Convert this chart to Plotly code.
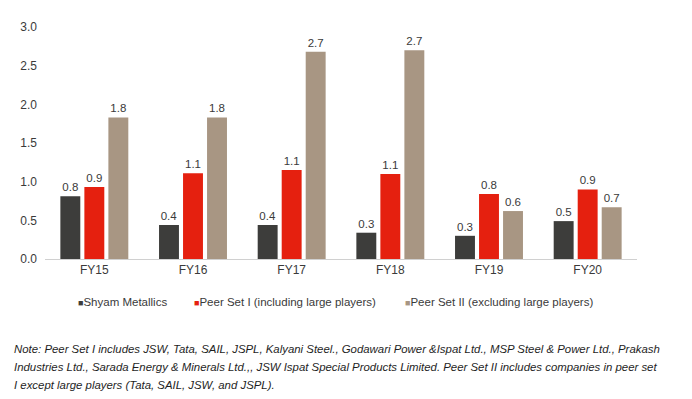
import plotly.graph_objects as go

categories = ["FY15", "FY16", "FY17", "FY18", "FY19", "FY20"]
shyam = [0.81, 0.44, 0.44, 0.34, 0.30, 0.49]
peer1 = [0.93, 1.11, 1.15, 1.10, 0.84, 0.90]
peer2 = [1.83, 1.83, 2.68, 2.70, 0.62, 0.67]
series_names = ["Shyam Metallics", "Peer Set I (including large players)", "Peer Set II (excluding large players)"]
colors = ["#3d3d3b", "#e5200f", "#a89683"]
y_ticks = [0.0, 0.5, 1.0, 1.5, 2.0, 2.5, 3.0]
note_lines = [
    "Note: Peer Set I includes JSW, Tata, SAIL, JSPL, Kalyani Steel., Godawari Power &Ispat Ltd., MSP Steel & Power Ltd., Prakash",
    "Industries Ltd., Sarada Energy & Minerals Ltd.,, JSW Ispat Special Products Limited. Peer Set II includes companies in peer set",
    "I except large players (Tata, SAIL, JSW, and JSPL).",
]

FONT = "Liberation Sans, Arial, sans-serif"
TXT = "#3a3a3a"

# page body has an 8px margin; work in page pixels and convert
OFF = 8
W, H = 684, 391
L, R, T, B = 45 - OFF, 55, 22 - OFF, 140
PW, PH = W - L - R, H - T - B


def px(xp):
    return (xp - OFF - L) / PW


def py(yp):
    return 1 - (yp - OFF - T) / PH


fig = go.Figure()
for name, vals, col in zip(series_names, [shyam, peer1, peer2], colors):
    fig.add_trace(go.Bar(
        x=categories, y=vals, name=name, marker=dict(color=col, line=dict(width=0)),
        text=[f"{v:.1f}" for v in vals], textposition="outside", cliponaxis=False,
        textfont=dict(family=FONT, size=11.5, color=TXT), showlegend=False,
    ))

fig.update_layout(
    width=W, height=H,
    margin=dict(l=L, r=R, t=T, b=B),
    paper_bgcolor="white", plot_bgcolor="white",
    barmode="group", bargap=0.27, bargroupgap=0.17,
    font=dict(family=FONT, size=12, color=TXT),
    showlegend=False,
)
fig.update_xaxes(showline=True, linecolor="#d0d0d0", linewidth=1, ticks="", showgrid=False,
                 tickfont=dict(family=FONT, size=12, color=TXT))
fig.update_yaxes(range=[0, 3.0], tickvals=y_ticks, ticktext=[f"{v:.1f}" for v in y_ticks],
                 showgrid=False, zeroline=False, showline=False, ticks="",
                 tickfont=dict(family=FONT, size=12, color=TXT), ticklabelstandoff=7)

legend_x = [76, 192, 403]
for name, col, lx in zip(series_names, colors, legend_x):
    fig.add_annotation(
        text=f"<span style='color:{col};font-size:9px'>■</span>{name}",
        xref="paper", yref="paper", x=px(lx), y=py(303),
        xanchor="left", yanchor="middle", showarrow=False,
        font=dict(family=FONT, size=11.5, color=TXT),
    )

for i, line in enumerate(note_lines):
    ypx = 351 + i * 18.5
    fig.add_annotation(
        text=f"<i>{line}</i>", xref="paper", yref="paper", x=px(12), y=py(ypx),
        xanchor="left", yanchor="middle", showarrow=False,
        font=dict(family=FONT, size=11.4, color="#1e1e1e"),
    )

fig.write_html("out.html")
